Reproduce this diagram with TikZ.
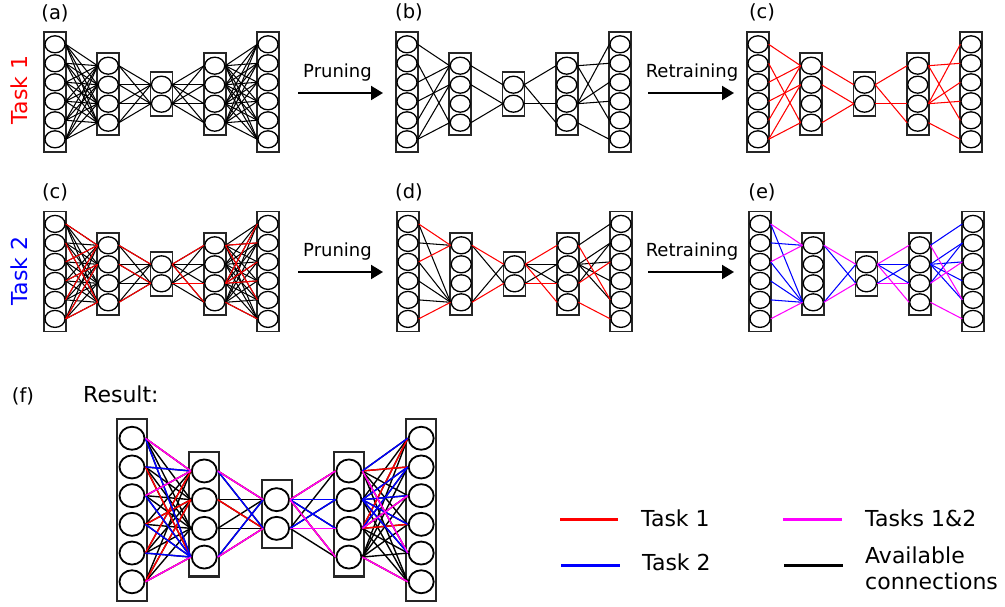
\documentclass[tikz,border=0pt]{standalone}
\usepackage{fontspec}
\setmainfont{DejaVu Sans}
\usetikzlibrary{shapes.geometric,arrows.meta}

\definecolor{cred}{RGB}{255,0,0}
\definecolor{cblue}{RGB}{0,0,255}
\definecolor{cmag}{RGB}{255,0,255}

\tikzset{
  nsmall/.style={ellipse, draw, line width=1.3pt, minimum width=20pt, minimum height=17pt, inner sep=0pt},
  nbig/.style={ellipse, draw, line width=1.8pt, minimum width=25pt, minimum height=23pt, inner sep=0pt},
  boxsmall/.style={rectangle, draw=black!85, line width=1.8pt, inner sep=0pt, minimum width=22pt},
  boxbig/.style={rectangle, draw=black!85, line width=2.2pt, inner sep=0pt, minimum width=30pt},
  es/.style={line width=1.05pt},
  eb/.style={line width=1.4pt},
  arr/.style={line width=2pt, -{Triangle[length=12pt,width=14pt]}},
  lab/.style={font=\fontsize{18}{21}\selectfont, inner sep=0pt},
  plab/.style={font=\fontsize{19.5}{22}\selectfont, inner sep=0pt},
  biglab/.style={font=\fontsize{22}{26}\selectfont, inner sep=0pt},
  legline/.style={line width=3pt},
}

\newcommand\drawnet[9]{%
  \foreach \ly/\nn/\oo in {1/6/-1,2/4/1,3/2/1,4/4/1,5/6/-1}{%
    \pgfmathsetmacro\xx{#2+(\ly-1)*#4}%
    \pgfmathsetmacro\yc{#3+\oo*#9}%
    \pgfmathsetmacro\hh{\nn*#5+#8}%
    \node[#7, minimum height=\hh pt] (#1b\ly) at (\xx,\yc) {};%
    \foreach \k in {1,...,\nn}{%
      \pgfmathsetmacro\yy{\yc+(\k-(\nn+1)/2)*#5}%
      \node[#6] (#1-\ly-\k) at (\xx,\yy) {};%
    }%
  }%
}
\newcommand\conn[5]{%
  \foreach \i/\j in #4 {\draw[#5] (#1-#2-\i.east) -- (#1-#3-\j.west);}%
}
\newcommand\fullconn[2]{%
  \foreach \i in {1,...,6}{\foreach \j in {1,...,4}{%
    \draw[#2] (#1-1-\i.east) -- (#1-2-\j.west);
    \draw[#2] (#1-4-\j.east) -- (#1-5-\i.west);}}%
  \foreach \i in {1,...,4}{\foreach \j in {1,2}{%
    \draw[#2] (#1-2-\i.east) -- (#1-3-\j.west);
    \draw[#2] (#1-3-\j.east) -- (#1-4-\i.west);}}%
}
\newcommand\setconn[6]{\conn{#1}{1}{2}{#2}{#6}\conn{#1}{2}{3}{#3}{#6}\conn{#1}{3}{4}{#4}{#6}\conn{#1}{4}{5}{#5}{#6}}

\def\OneA{1/1,2/4,3/1,4/2,5/1,6/2,6/4}
\def\OneB{1/1,2/2,4/2}
\def\OneC{1/1,1/4,2/3}
\def\OneD{1/2,1/5,3/1,3/3,3/4,4/6}
\def\BothA{1/1,3/1,6/4}
\def\BothB{1/1,4/2}
\def\BothC{1/1,1/4,2/3}
\def\BothD{1/5,3/3,4/6}
\def\TwoA{1/4,2/1,3/4,4/4,5/4}
\def\TwoB{1/2,4/1}
\def\TwoC{1/2,1/3,2/2}
\def\TwoD{1/1,2/2,2/3,2/4,2/5,3/2}
\newcommand\taskOne[2]{\setconn{#1}{\OneA}{\OneB}{\OneC}{\OneD}{#2}}
\newcommand\taskBoth[2]{\setconn{#1}{\BothA}{\BothB}{\BothC}{\BothD}{#2}}
\newcommand\taskTwo[2]{\setconn{#1}{\TwoA}{\TwoB}{\TwoC}{\TwoD}{#2}}

\begin{document}
\begin{tikzpicture}[x=1pt,y=-1pt]
\useasboundingbox (0,0) rectangle (1005,606);

% networks
\drawnet{a}{55}{93}{53.25}{19}{nsmall}{boxsmall}{6}{1.2}
\drawnet{b}{407}{93}{53.25}{19}{nsmall}{boxsmall}{6}{1.2}
\drawnet{c}{758}{93}{53.25}{19}{nsmall}{boxsmall}{6}{1.2}
\drawnet{p}{55}{272.6}{53.25}{19}{nsmall}{boxsmall}{6}{1.2}
\drawnet{d}{408}{272.6}{53.25}{19}{nsmall}{boxsmall}{6}{1.2}
\drawnet{e}{760}{272.6}{53.25}{19}{nsmall}{boxsmall}{6}{1.2}
\drawnet{f}{132}{512}{72.3}{28.7}{nbig}{boxbig}{10}{2}

% connections
\fullconn{a}{es}
\taskOne{b}{es}
\taskOne{c}{es,cred}
\fullconn{p}{es}
\taskOne{p}{es,cred}
\taskTwo{d}{es}
\taskBoth{d}{es,cred}
\taskTwo{e}{es,cblue}
\taskBoth{e}{es,cmag}
\fullconn{f}{eb}
\taskOne{f}{eb,cred}
\taskTwo{f}{eb,cblue}
\taskBoth{f}{eb,cmag}

% panel labels
\node[plab] (la) at (55,13) {(a)};
\node[plab] (lb) at (409,12) {(b)};
\node[plab] (lc) at (762,12) {(c)};
\node[plab] (lc2) at (55,192) {(c)};
\node[plab] (ld) at (409,192) {(d)};
\node[plab] (le) at (762,192) {(e)};
\node[plab] (lf) at (23,396) {(f)};
\node[biglab, anchor=base west] (res) at (83,402) {Result:};

\node[biglab, text=cred, rotate=90] (t1) at (19,90) {Task 1};
\node[biglab, text=cblue, rotate=90] (t2) at (19,271) {Task 2};

% arrows
\coordinate (a1s) at (298,93); \coordinate (a1e) at (383,93);
\coordinate (a2s) at (648,93); \coordinate (a2e) at (734,93);
\coordinate (a3s) at (298,272); \coordinate (a3e) at (383,272);
\coordinate (a4s) at (648,272); \coordinate (a4e) at (734,272);
\draw[arr] (a1s) -- (a1e);
\draw[arr] (a2s) -- (a2e);
\draw[arr] (a3s) -- (a3e);
\draw[arr] (a4s) -- (a4e);
\node[lab, anchor=base] (pr1) at (337.5,77) {Pruning};
\node[lab, anchor=base] (rt1) at (692,77) {Retraining};
\node[lab, anchor=base] (pr2) at (337.5,256) {Pruning};
\node[lab, anchor=base] (rt2) at (692,256) {Retraining};

% legend
\coordinate (l1s) at (560,519); \coordinate (l1e) at (618,519);
\coordinate (l2s) at (561,565); \coordinate (l2e) at (620,565);
\coordinate (l3s) at (783,519); \coordinate (l3e) at (842,519);
\coordinate (l4s) at (784,565); \coordinate (l4e) at (843,565);
\draw[legline, cred] (l1s) -- (l1e);
\draw[legline, cblue] (l2s) -- (l2e);
\draw[legline, cmag] (l3s) -- (l3e);
\draw[legline, black] (l4s) -- (l4e);
\node[biglab, anchor=base west] (g1) at (641,526) {Task 1};
\node[biglab, anchor=base west] (g2) at (642,570) {Task 2};
\node[biglab, anchor=base west] (g3) at (865,526) {Tasks 1\&2};
\node[biglab, anchor=west, align=left] (g4) at (865,568) {Available\\connections};
\end{tikzpicture}
\end{document}
